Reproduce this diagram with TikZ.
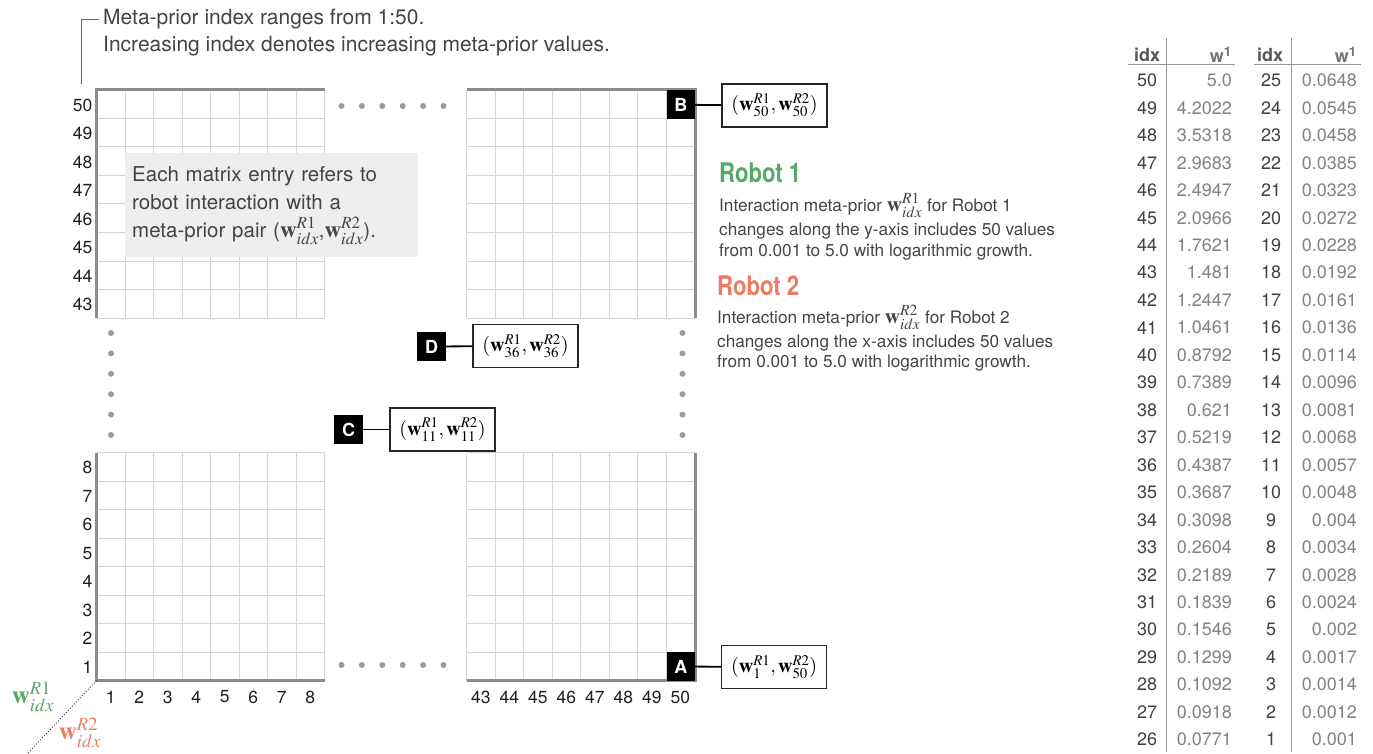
\documentclass[tikz,border=0pt]{standalone}
\usepackage{mathptmx}
\usepackage[no-math]{fontspec}
\setmainfont{TeX Gyre Heros}
\newfontfamily\condfont[FakeStretch=0.82]{TeX Gyre Heros}
\definecolor{rgreen}{RGB}{88,168,104}
\definecolor{rcoral}{RGB}{238,122,98}
\definecolor{gridc}{RGB}{212,212,212}
\definecolor{axisc}{RGB}{140,140,140}
\definecolor{txt}{RGB}{68,68,68}
\definecolor{boxfill}{RGB}{238,238,238}
\definecolor{dotc}{RGB}{155,155,155}
\definecolor{valc}{RGB}{130,130,130}
\definecolor{idxc}{RGB}{65,65,65}
\definecolor{tlinec}{RGB}{150,150,150}
\newcommand{\sizedmath}[2]{{\fontsize{#1}{#1}\selectfont$#2$}}
\begin{document}
\begin{tikzpicture}[x=1pt,y=-1pt,
  gridline/.style={draw=gridc, line width=1pt},
  axisline/.style={draw=axisc, line width=3pt},
  tag/.style={fill=black, text=white, font=\fontsize{18}{18}\selectfont\bfseries, minimum size=28.5pt, inner sep=0pt},
  pairbox/.style={draw=black!85, line width=1.1pt, fill=white, minimum width=105pt, minimum height=43pt, inner sep=0pt, font=\fontsize{20}{20}\selectfont},
  link/.style={draw=black, line width=1.8pt},
  axnum/.style={font=\fontsize{17.5}{18}\selectfont, text=black!88, inner sep=0pt},
  dotmark/.style={fill=dotc},
  body/.style={font=\fontsize{21}{28}\selectfont, text=txt, inner sep=0pt},
  para/.style={font=\fontsize{17.2}{20}\selectfont, text=txt, inner sep=0pt, anchor=base west},
  robot/.style={font=\condfont\bfseries\fontsize{27}{27}\selectfont, inner sep=0pt, anchor=base west},
  thead/.style={font=\fontsize{18}{18}\selectfont\bfseries, text=txt!90, inner sep=0pt},
  tidx/.style={font=\fontsize{18}{18}\selectfont, text=idxc, inner sep=0pt},
  tval/.style={font=\fontsize{18}{18}\selectfont, text=valc, inner sep=0pt, anchor=east},
  tline/.style={draw=tlinec, line width=1pt}
]
\useasboundingbox (0,0) rectangle (1373,754);

% ---------- grids ----------
\foreach \gx in {96.5,466.5} {
  \foreach \gy in {90,452.5} {
    \foreach \k in {0,...,8} {
      \draw[gridline] ({\gx+\k*28.5},\gy) -- ++(0,228);
      \draw[gridline] (\gx,{\gy+\k*28.5}) -- ++(228,0);
    }
  }
}
\draw[axisline] (96.5,318) -- (96.5,90) -- (325,90);
\draw[axisline] (466.5,90) -- (695,90) -- (695,318);
\draw[axisline] (96.5,452.5) -- (96.5,680.5) -- (325,680.5);
\draw[axisline] (466.5,680.5) -- (695,680.5) -- (695,452.5);

% ---------- axis numbers ----------
\foreach \i [count=\k from 0] in {50,49,...,43} {
  \node[axnum, anchor=east] (rl\i) at (92.5,{90+(\k+0.5)*28.5+1}) {\i};
}
\foreach \i [count=\k from 0] in {8,7,...,1} {
  \node[axnum, anchor=east] (rl\i) at (92.5,{452.5+(\k+0.5)*28.5+1}) {\i};
}
\foreach \i in {1,...,8} {
  \node[axnum] (cl\i) at ({96.5+(\i-0.5)*28.5},697) {\i};
}
\foreach \i in {43,...,50} {
  \node[axnum] (cl\i) at ({466.5+(\i-42.5)*28.5},697) {\i};
}

% ---------- ellipsis dots ----------
\foreach \k in {0,...,5} {
  \fill[dotmark] ({341.5+\k*20.4},106) circle (3pt);
  \fill[dotmark] ({341.5+\k*20.4},665) circle (3pt);
  \fill[dotmark] (111,{333+\k*20.4}) circle (3pt);
  \fill[dotmark] (682.5,{333+\k*20.4}) circle (3pt);
}

% ---------- top annotation ----------
\node[body, anchor=base west] (meta1) at (103,25) {Meta-prior index ranges from 1:50.};
\node[body, anchor=base west] (meta2) at (103,52) {Increasing index denotes increasing meta-prior values.};
\coordinate (metaA) at (81.5,84);
\draw[draw=black!60, line width=0.9pt] (metaA) |- ([xshift=-4pt]meta1.west);

% ---------- gray note ----------
\node[body, font=\fontsize{20.5}{28}\selectfont, anchor=north west, fill=boxfill, minimum width=293pt, minimum height=104pt,
      text width=279pt, inner xsep=7pt, inner ysep=0pt, align=left] (note) at (125,153)
  {Each matrix entry refers to\\robot interaction with a\\meta-prior pair (\sizedmath{23}{\mathbf{w}^{R1}_{idx}},\sizedmath{23}{\mathbf{w}^{R2}_{idx}}).};

% ---------- tags and pair boxes ----------
\node[tag] (tagB) at (680.75,104.75) {B};
\node[pairbox] (boxB) at (774.5,105.5) {$(\mathbf{w}^{R1}_{50},\mathbf{w}^{R2}_{50})$};
\draw[link] (tagB) -- (boxB);

\node[tag] (tagA) at (680.75,666.5) {A};
\node[pairbox] (boxA) at (774.2,667) {$(\mathbf{w}^{R1}_{1},\mathbf{w}^{R2}_{50})$};
\draw[link] (tagA) -- (boxA);

\node[tag] (tagD) at (431.5,346.5) {D};
\node[pairbox] (boxD) at (525.5,346) {$(\mathbf{w}^{R1}_{36},\mathbf{w}^{R2}_{36})$};
\draw[link] (tagD) -- (boxD);

\node[tag] (tagC) at (348.5,429.5) {C};
\node[pairbox] (boxC) at (442.5,429.5) {$(\mathbf{w}^{R1}_{11},\mathbf{w}^{R2}_{11})$};
\draw[link] (tagC) -- (boxC);

% ---------- corner ----------
\coordinate (corner) at (96.5,680.5);
\coordinate (cornerend) at (27,754);
\draw[dotted, line width=0.9pt, black!80] (corner) -- (cornerend);
\node[text=rgreen, font=\fontsize{25}{25}\selectfont, inner sep=0pt] (lw1) at (33,697) {$\mathbf{w}^{R1}_{idx}$};
\node[text=rcoral, font=\fontsize{25}{25}\selectfont, inner sep=0pt] (lw2) at (80,733) {$\mathbf{w}^{R2}_{idx}$};

% ---------- robot descriptions ----------
\node[robot, text=rgreen] (rob1) at (719,183) {Robot 1};
\node[para] (r1a) at (719,211.5) {Interaction meta-prior \sizedmath{21}{\mathbf{w}^{R1}_{idx}} for Robot 1};
\node[para] (r1b) at (719,236) {changes along the y-axis includes 50 values};
\node[para] (r1c) at (719,256.5) {from 0.001 to 5.0 with logarithmic growth.};

\node[robot, text=rcoral] (rob2) at (717,295) {Robot 2};
\node[para] (r2a) at (717,323) {Interaction meta-prior \sizedmath{21}{\mathbf{w}^{R2}_{idx}} for Robot 2};
\node[para] (r2b) at (717,347) {changes along the x-axis includes 50 values};
\node[para] (r2c) at (717,367.5) {from 0.001 to 5.0 with logarithmic growth.};

% ---------- table ----------
\node[thead] (h1) at (1147,55) {idx};
\node[thead, anchor=east, text=txt!75] (h2) at (1232,55) {w\textsuperscript{1}};
\node[thead] (h3) at (1270,55) {idx};
\node[thead, anchor=east, text=txt!75] (h4) at (1357,55) {w\textsuperscript{1}};
\draw[tline] (1128,64.5) -- (1235,64.5);
\draw[tline] (1254,64.5) -- (1361,64.5);
\draw[tline] (1166,38) -- (1166,752);
\draw[tline] (1291,38) -- (1291,752);

\foreach \i/\val [count=\k from 0] in {50/5.0,49/4.2022,48/3.5318,47/2.9683,46/2.4947,45/2.0966,44/1.7621,43/1.481,42/1.2447,41/1.0461,40/0.8792,39/0.7389,38/0.621,37/0.5219,36/0.4387,35/0.3687,34/0.3098,33/0.2604,32/0.2189,31/0.1839,30/0.1546,29/0.1299,28/0.1092,27/0.0918,26/0.0771} {
  \node[tidx] (ia\i) at (1147,{80.5+\k*27.46}) {\i};
  \node[tval] (va\i) at (1232,{80.5+\k*27.46}) {\val};
}
\foreach \i/\val [count=\k from 0] in {25/0.0648,24/0.0545,23/0.0458,22/0.0385,21/0.0323,20/0.0272,19/0.0228,18/0.0192,17/0.0161,16/0.0136,15/0.0114,14/0.0096,13/0.0081,12/0.0068,11/0.0057,10/0.0048,9/0.004,8/0.0034,7/0.0028,6/0.0024,5/0.002,4/0.0017,3/0.0014,2/0.0012,1/0.001} {
  \node[tidx] (ib\i) at (1271,{80.5+\k*27.46}) {\i};
  \node[tval] (vb\i) at (1357,{80.5+\k*27.46}) {\val};
}
\end{tikzpicture}
\end{document}
